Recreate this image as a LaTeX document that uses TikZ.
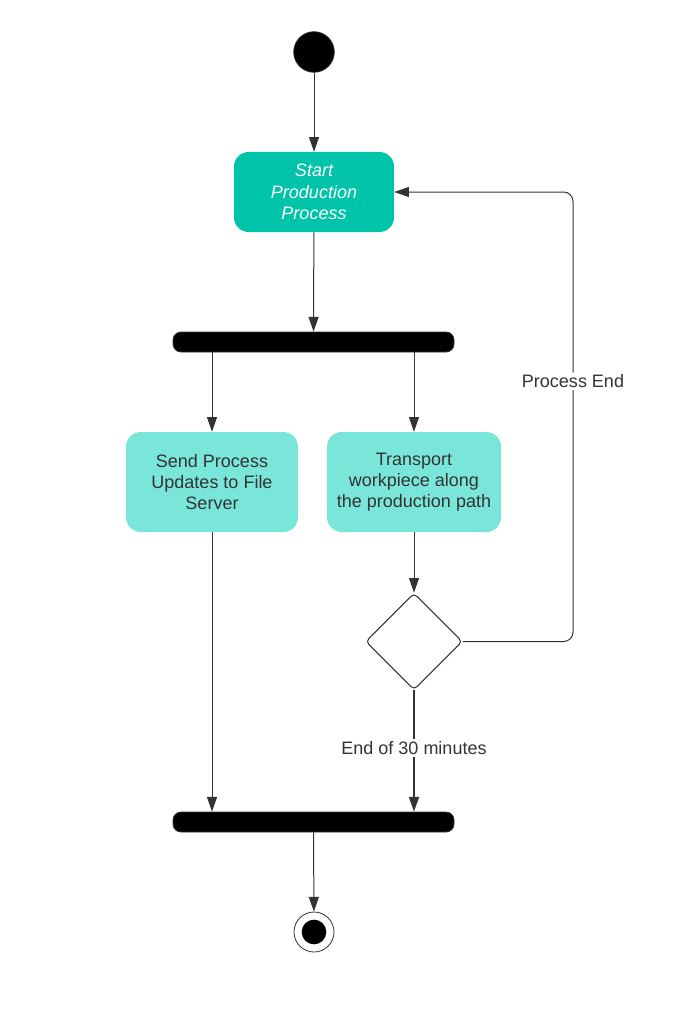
\documentclass[tikz,border=0pt]{standalone}
\usepackage{fontspec}
\setmainfont{Liberation Sans}
\usetikzlibrary{shapes.geometric,arrows.meta}
\definecolor{txt}{HTML}{333333}
\definecolor{teal1}{HTML}{00C4AA}
\definecolor{teal2}{HTML}{79E6D9}
\definecolor{ln}{HTML}{333333}
\tikzset{
  every node/.style={font=\fontsize{13.5}{15.9}\selectfont, text=txt},
  act/.style={rectangle, rounded corners=11pt, draw=none, align=center, inner sep=2pt},
  bar/.style={rectangle, rounded corners=6pt, fill=black, draw=ln, line width=0.6pt, minimum width=210.75pt, minimum height=15pt, inner sep=0pt},
  arr/.style={draw=ln, line width=0.75pt, -{Triangle[length=11pt,width=7.5pt]}},
  lbl/.style={fill=white, inner sep=1.5pt},
}
\begin{document}
\begin{tikzpicture}[x=0.75pt,y=-0.75pt]
\useasboundingbox (0,0) rectangle (681,1027);
\node[circle, fill=black, draw=ln, line width=0.5pt, minimum size=30.5pt, inner sep=0pt] (init) at (314,52) {};
\node[act, fill=teal1, minimum width=120pt, minimum height=60pt, text=white, font=\fontsize{13.5}{15.9}\selectfont\itshape] (start) at (314,192) {Start\\Production\\Process};
\node[bar] (fork) at (313.5,342) {};
\node[act, fill=teal2, minimum width=129pt, minimum height=75pt] (send) at (212,482) {Send Process\\Updates to File\\Server};
\node[act, fill=teal2, minimum width=130.5pt, minimum height=75pt] (trans) at (414,482) {Transport\\workpiece along\\the production path};
\node[diamond, aspect=1, draw=ln, line width=0.75pt, fill=white, minimum size=72.5pt, inner sep=0pt, rounded corners=3pt] (dec) at (414,641.5) {};
\node[bar] (join) at (313.5,822) {};
\node[circle, draw=ln, line width=0.6pt, fill=white, minimum size=30pt, inner sep=0pt] (fin) at (314,932) {};
\node[circle, fill=black, minimum size=18.5pt, inner sep=0pt] (finin) at (fin.center) {};
\coordinate (rc) at (573,641.5);

\draw[arr] (init) -- (start);
\draw[arr] (start) -- (fork);
\draw[arr] (fork.south -| send.north) -- (send.north);
\draw[arr] (fork.south -| trans.north) -- (trans.north);
\draw[arr] (trans) -- (dec);
\draw[arr] (send.south) -- (send.south |- join.north);
\draw[arr, line width=1.3pt] (dec.south) -- node[lbl, pos=0.475] {End of 30 minutes} (dec.south |- join.north);
\draw[arr, rounded corners=7pt] (dec.east) -- (rc) -- node[lbl, pos=0.579] {Process End} (rc |- start.east) -- (start.east);
\draw[arr] (join) -- (fin);
\end{tikzpicture}
\end{document}
